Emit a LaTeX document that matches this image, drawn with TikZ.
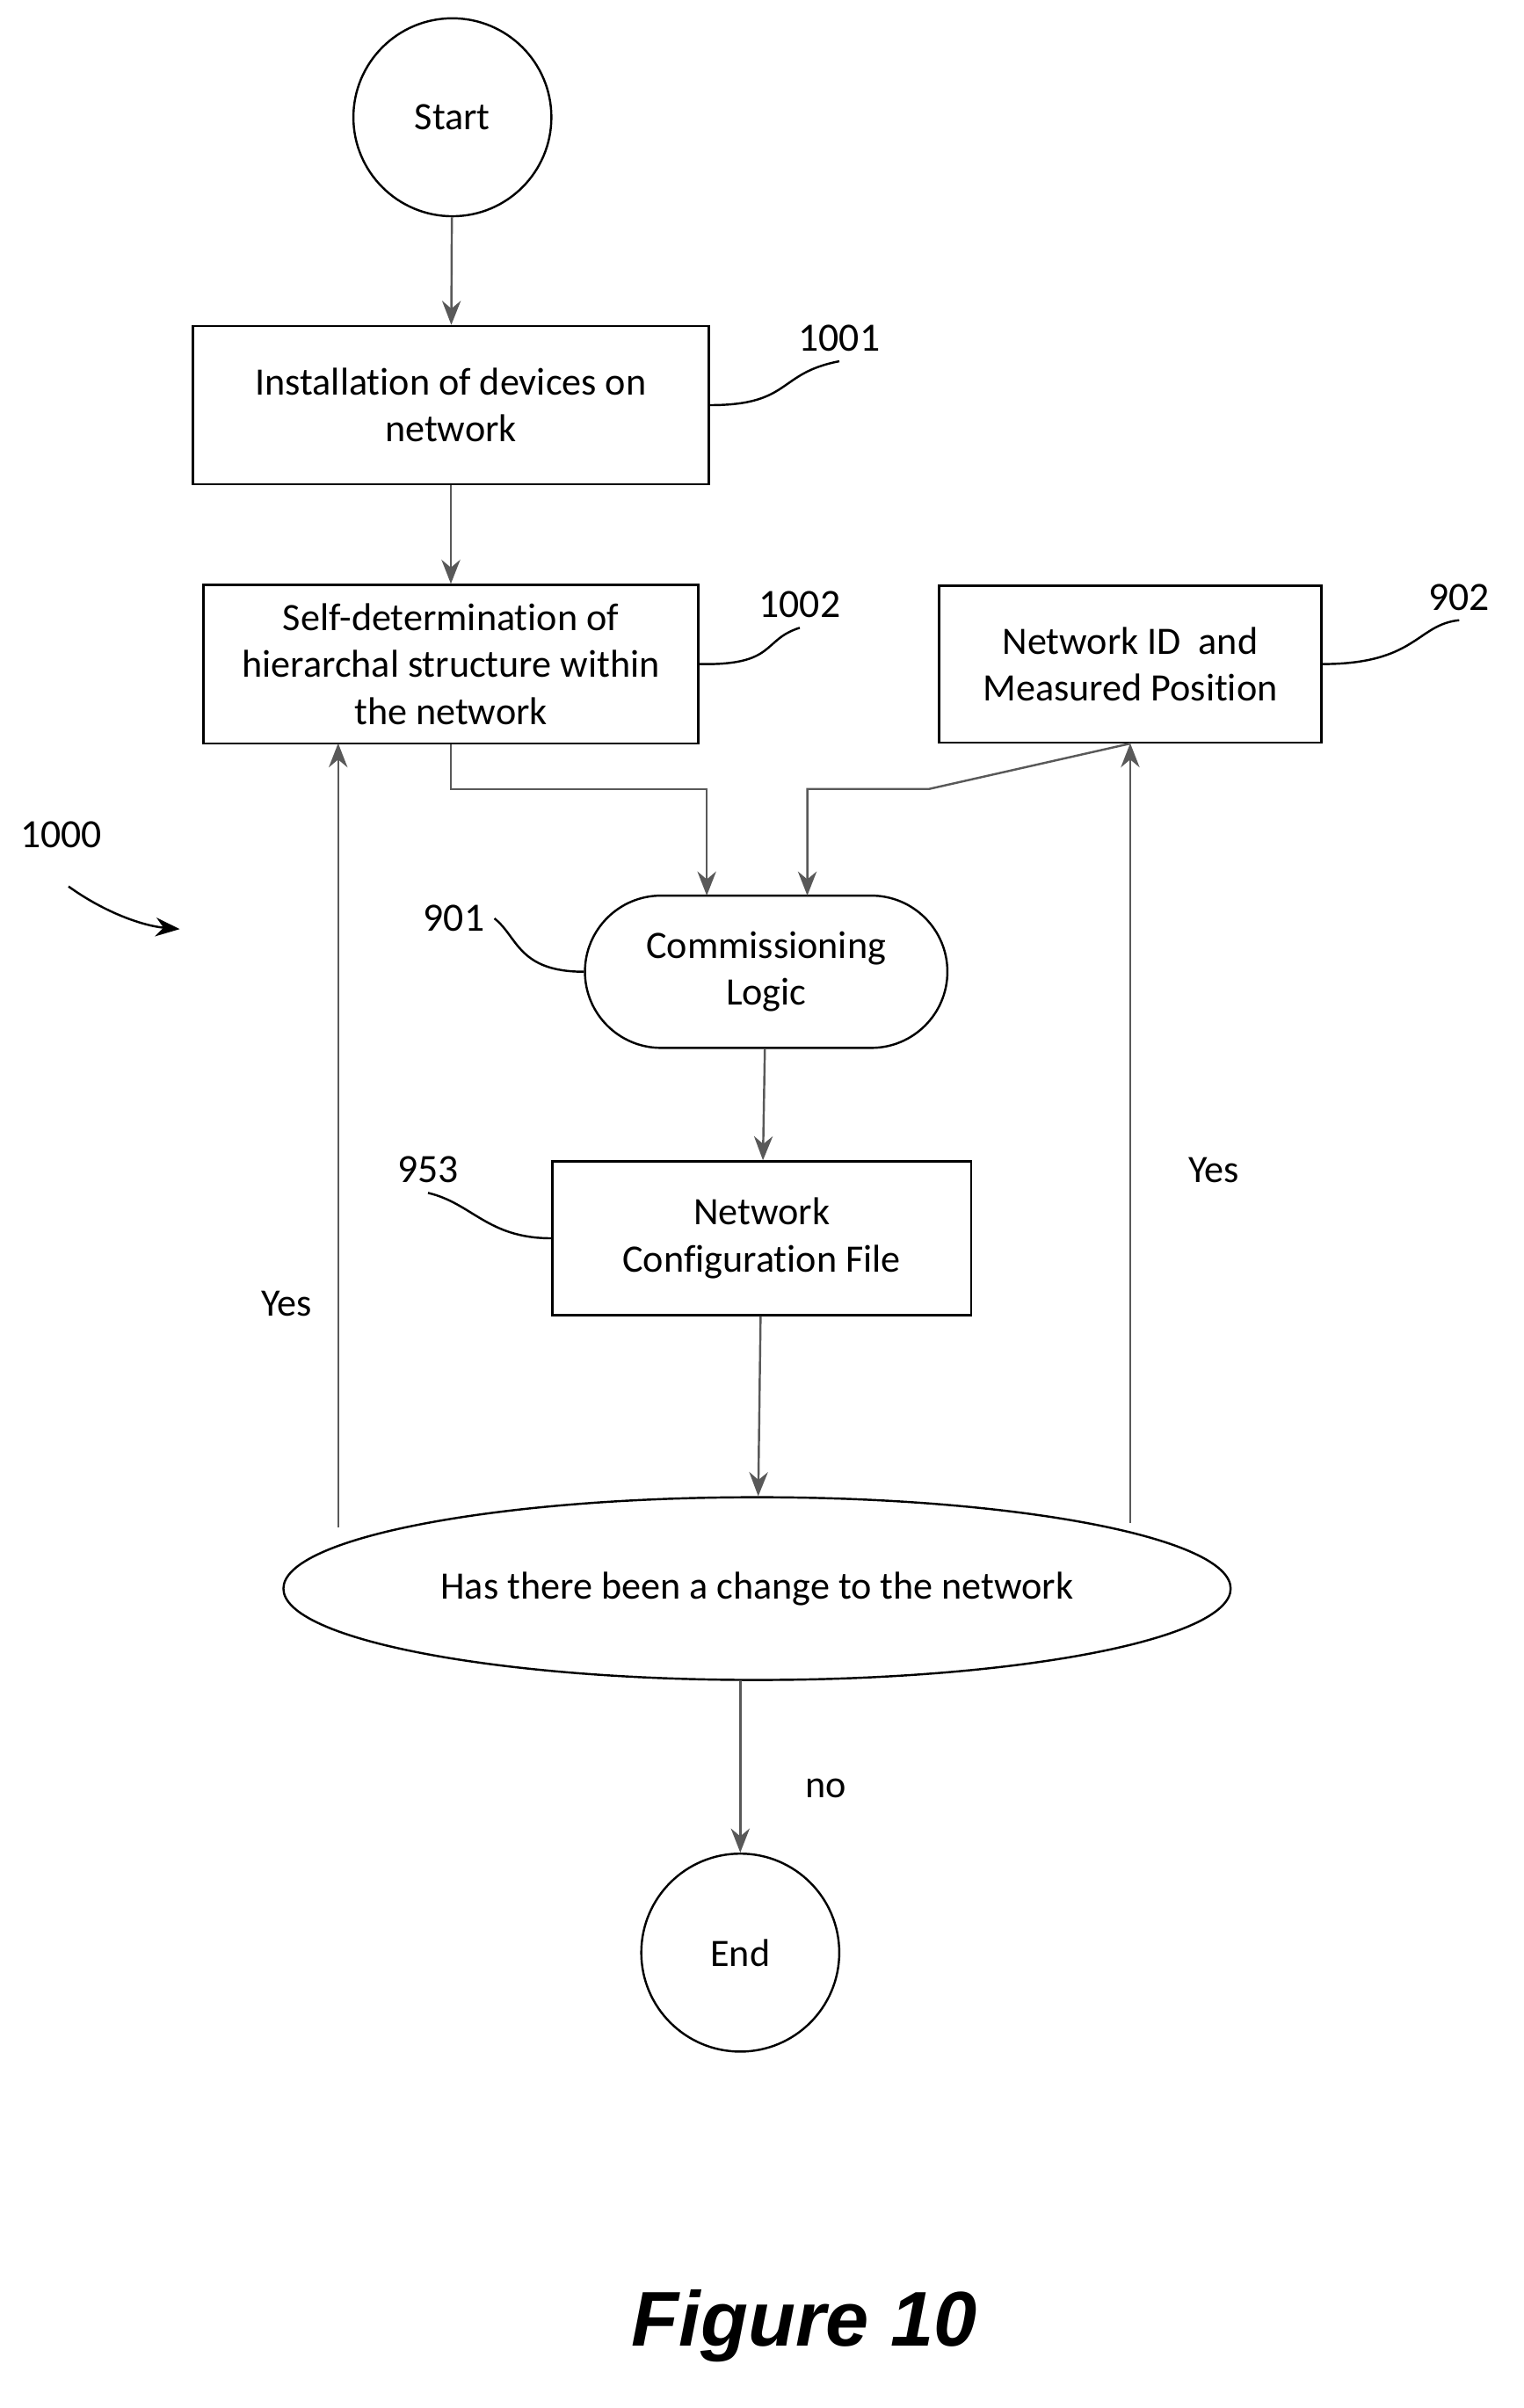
\documentclass[tikz,border=0pt]{standalone}
\usepackage{fontspec}
\setmainfont[Ligatures=NoCommon]{Carlito}
\newfontfamily\figfont{Liberation Sans}
\usetikzlibrary{arrows.meta,shapes.geometric}
\begin{document}
\begin{tikzpicture}[
        x=0.02cm, y=-0.02cm,
        thick,
        >={Stealth[length=9pt,width=7pt]},
        every node/.style={font=\fontsize{14.5}{17.5}\selectfont},
        stepbox/.style={draw, align=center, inner sep=2pt},
        term/.style={draw, circle, minimum size=2.6cm},
        refnum/.style={font=\fontsize{15}{17}\selectfont},
        flow/.style={->, gray!70!black, thick},
    ]
    \useasboundingbox (0,0) rectangle (1000,1581);
    \node[term] (start) at (297,77) {Start};
    \node[stepbox, minimum width=6.78cm, minimum height=2.08cm] (install) at (296,266) {Installation of devices on\\network};
    \node[stepbox, minimum width=6.5cm, minimum height=2.08cm] (selfdet) at (296,436) {Self-determination of\\hierarchal structure within\\the network};
    \node[stepbox, minimum width=5.02cm, minimum height=2.06cm] (netid) at (742,436) {Network ID\ \ and\\Measured Position};
    \node[draw, rounded corners=1cm, minimum width=4.76cm, minimum height=2cm, align=center] (logic) at (503,638) {Commissioning\\Logic};
    \node[stepbox, minimum width=5.5cm, minimum height=2.02cm] (config) at (500,813) {Network\\Configuration File};
    \node[draw, ellipse, minimum width=12.44cm, minimum height=2.4cm] (change) at (497,1043) {Has there been a change to the network};
    \node[term] (end) at (486,1282) {End};

    % reference numerals
    \node[refnum] (n1001) at (551,222) {1001};
    \node[refnum] (n1002) at (525,397) {1002};
    \node[refnum] (n902) at (958,392) {902};
    \node[refnum] (n901) at (298,603) {901};
    \node[refnum] (n953) at (281,768) {953};
    \node[refnum] (n1000) at (40,548) {1000};
    \draw (install.east) .. controls (520,266) and (510,245) .. (n1001.south);
    \draw (selfdet.east) .. controls (510,437) and (500,420) .. (n1002.south);
    \draw (netid.east) .. controls (930,436) and (930,410) .. (n902.south);
    \draw (logic.west) .. controls (340,638) and (340,615) .. (n901.east);
    \draw (config.west) .. controls (320,813) and (310,790) .. (n953.south);
    \coordinate (c1000) at (45,582);
    \coordinate (t1000) at (118,610);
    \draw[->] (c1000) .. controls (70,600) and (95,608) .. (t1000);

    % flow
    \draw[flow] (start) -- (install);
    \draw[flow] (install) -- (selfdet);
    \draw[flow] (selfdet.south) -- (296,518) -- (464,518) -- (464,588);
    \draw[flow] (netid.south) -- (610,518) -- (530,518) -- (530,588);
    \draw[flow] (logic) -- (config);
    \draw[flow] (config) -- (change);
    \draw[flow] (222,1003) -- (222,488);
    \draw[flow] (742,1000) -- (742,488);
    \draw[flow] (486,1103) -- (end);
    \node (yesl) at (188,856) {Yes};
    \node (yesr) at (797,768) {Yes};
    \node (no) at (542,1174) {no};
    \node[font=\figfont\bfseries\itshape\fontsize{29}{34}\selectfont] (fig) at (528,1527) {Figure 10};
\end{tikzpicture}
\end{document}
